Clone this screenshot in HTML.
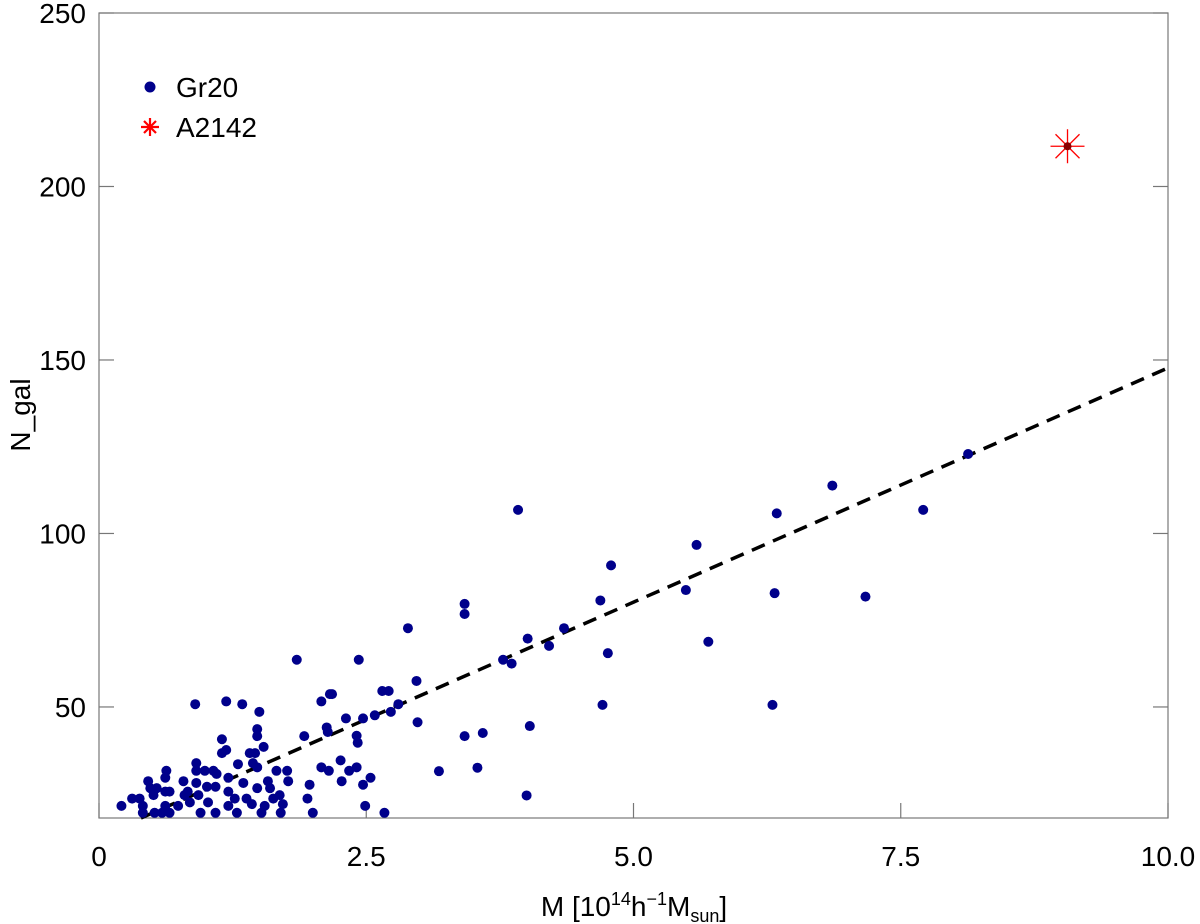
<!DOCTYPE html>
<html><head><meta charset="utf-8"><style>
body{margin:0;background:#fff}
svg{display:block;font-family:"Liberation Sans",sans-serif}
</style></head><body>
<svg id="chart" width="1200" height="924" viewBox="0 0 1200 924" xmlns="http://www.w3.org/2000/svg">
<g id="axes"></g>
<g id="marks"></g>
<g>
<circle cx="150" cy="87" r="5.5" fill="#00008b"/>
<text x="176" y="97" font-size="28">Gr20</text>
<g stroke="#ff0000" stroke-width="2.2">
<line x1="141" y1="127" x2="159" y2="127"/><line x1="150" y1="118" x2="150" y2="136"/>
<line x1="144" y1="121" x2="156" y2="133"/><line x1="156" y1="121" x2="144" y2="133"/></g>
<text x="176" y="137" font-size="28">A2142</text>
</g>
<text transform="translate(30,415) rotate(-90)" text-anchor="middle" font-size="28">N_gal</text>
<text x="634" y="916" text-anchor="middle" font-size="28">M [10<tspan dy="-11" font-size="18">14</tspan><tspan dy="11">h</tspan><tspan dy="-11" font-size="18">−1</tspan><tspan dy="11">M</tspan><tspan dy="6" font-size="18">sun</tspan><tspan dy="-6">]</tspan></text>
</svg>
<script>
const xTicks=[0,2.5,5,7.5,10];
const xTickLabels=["0","2.5","5.0","7.5","10.0"];
const yTicks=[50,100,150,200,250];
const yTickLabels=["50","100","150","200","250"];
const gr20M=[0.21,0.31,0.38,0.41,0.41,0.46,0.48,0.51,0.52,0.54,0.59,0.62,0.63,0.62,0.66,0.62,0.66,0.74,0.79,0.80,0.83,0.85,0.90,0.91,0.91,0.91,0.93,0.95,0.99,1.01,1.02,1.07,1.09,1.10,1.09,1.15,1.15,1.19,1.19,1.21,1.21,1.21,1.27,1.29,1.30,1.34,1.35,1.38,1.41,1.43,1.44,1.46,1.48,1.48,1.48,1.50,1.48,1.52,1.54,1.55,1.58,1.60,1.63,1.66,1.69,1.70,1.72,1.76,1.77,1.85,1.92,1.95,1.97,2.00,2.08,2.08,2.13,2.14,2.15,2.16,2.18,2.26,2.27,2.31,2.34,2.41,2.41,2.42,2.43,2.47,2.47,2.49,2.54,2.58,2.65,2.67,2.71,2.73,2.80,2.97,2.98,2.89,3.18,3.42,3.42,3.42,3.54,3.59,3.78,3.86,3.92,4.01,4.03,4.00,4.21,4.35,4.69,4.71,4.76,4.79,5.49,5.59,5.70,6.30,6.32,6.34,6.86,7.17,7.71,8.13];
const gr20N=[21.5,23.6,23.6,21.5,19.5,28.6,26.6,24.6,19.5,26.6,19.5,29.6,31.6,25.6,25.6,21.5,19.5,21.5,28.6,24.6,25.6,22.5,50.8,33.8,31.6,28.1,24.6,19.5,31.6,27.0,22.5,31.6,27.0,30.7,19.5,40.7,36.7,37.6,51.6,29.6,25.6,21.5,23.6,19.5,33.5,50.8,28.1,23.6,36.7,22.0,33.8,36.7,32.6,43.6,41.6,48.6,26.6,19.5,38.5,21.5,28.6,26.6,23.6,31.6,24.6,19.5,22.0,31.6,28.6,63.6,41.6,23.6,27.6,19.5,51.6,32.6,44.1,42.8,31.6,53.7,53.7,34.6,28.6,46.7,31.6,41.7,32.6,39.7,63.6,46.7,27.6,21.5,29.6,47.6,54.6,19.5,54.6,48.6,50.8,57.5,45.6,72.7,31.5,79.7,76.8,41.6,32.5,42.5,63.6,62.5,106.8,69.7,44.5,24.5,67.6,72.7,80.7,50.6,65.5,90.8,83.7,96.7,68.8,50.6,82.8,105.8,113.8,81.8,106.8,122.9];
const a2142M=[9.06];
const a2142N=[211.6];
const fitSlope=[13.5];
const fitIntercept=[12.7];

const NS="http://www.w3.org/2000/svg";
const L=99,R=1168,T=13,B=818,xMin=0,xMax=10,yMin=18,yMax=250;
function sx(v){return L+(v-xMin)/(xMax-xMin)*(R-L);}
function sy(v){return B-(v-yMin)/(yMax-yMin)*(B-T);}
function mk(tag,attrs,parent){const e=document.createElementNS(NS,tag);for(const k in attrs)e.setAttribute(k,attrs[k]);parent.appendChild(e);return e;}
const axes=document.getElementById('axes'),marks=document.getElementById('marks');
const frame=mk('rect',{x:L,y:T,width:R-L,height:B-T,fill:'none',stroke:'#777','stroke-width':1.2},axes);


xTicks.forEach((v,i)=>{
  const x=sx(v);
  const t1=mk('line',{x1:x,y1:B,x2:x,y2:B-15,stroke:'#777','stroke-width':1.2},axes);
  
  
  const tx=mk('text',{x:x,y:866,'text-anchor':'middle','font-size':28},axes);
  tx.textContent=xTickLabels[i];
  
  
});
yTicks.forEach((v,i)=>{
  const y=sy(v);
  const t1=mk('line',{x1:L,y1:y,x2:L+15,y2:y,stroke:'#777','stroke-width':1.2},axes);
  
  
  const t2=mk('line',{x1:R,y1:y,x2:R-15,y2:y,stroke:'#777','stroke-width':1.2},axes);
  
  
  const tx=mk('text',{x:L-13,y:y+10,'text-anchor':'end','font-size':28},axes);
  tx.textContent=yTickLabels[i];
  
  
});
const x0=(yMin-fitIntercept[0])/fitSlope[0];
const fit=mk('line',{x1:sx(x0),y1:sy(yMin),x2:sx(xMax),y2:sy(fitIntercept[0]+fitSlope[0]*xMax),stroke:'#000','stroke-width':3.5,'stroke-dasharray':'14 9'},marks);


gr20M.forEach((m,i)=>{
  const c=mk('circle',{cx:sx(m),cy:sy(gr20N[i]),r:5,fill:'#00008b'},marks);
  
  
});
a2142M.forEach((m,i)=>{
  const x=sx(m),y=sy(a2142N[i]);
  const g=mk('g',{stroke:'#ff0000','stroke-width':1.3},marks);
  
  
  mk('line',{x1:x-17,y1:y,x2:x+17,y2:y},g);
  mk('line',{x1:x,y1:y-17,x2:x,y2:y+17},g);
  mk('line',{x1:x-12,y1:y-12,x2:x+12,y2:y+12},g);
  mk('line',{x1:x+12,y1:y-12,x2:x-12,y2:y+12},g);
  mk('circle',{cx:x,cy:y,r:4,fill:'#8b0000',stroke:'none'},g);
});
</script>
</body></html>
